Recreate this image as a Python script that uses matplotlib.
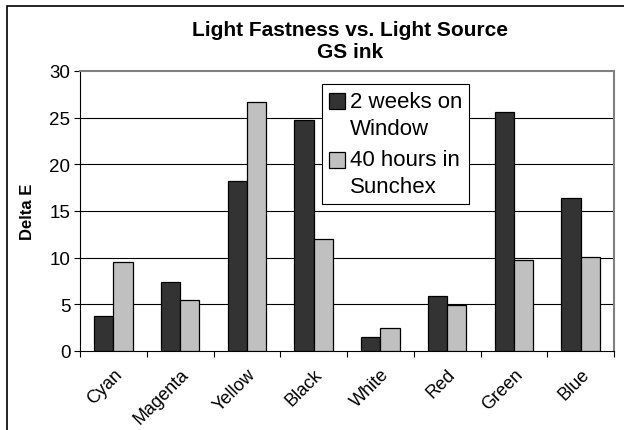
"""Light fastness vs. light source bar chart (GS ink)."""

import matplotlib
matplotlib.use("Agg")
import matplotlib.pyplot as plt
import matplotlib.patches as patches
import matplotlib.transforms as mtransforms
from matplotlib.legend_handler import HandlerPatch
import numpy as np

plt.rcParams['font.family'] = ['Liberation Sans', 'DejaVu Sans']

# data
categories = ['Cyan', 'Magenta', 'Yellow', 'Black', 'White', 'Red', 'Green', 'Blue']
window_2wk = [3.7, 7.4, 18.2, 24.8, 1.5, 5.9, 25.6, 16.4]
sunchex_40h = [9.5, 5.5, 26.7, 12.0, 2.5, 4.9, 9.8, 10.1]
series_labels = ['2 weeks on\nWindow', '40 hours in\nSunchex']
y_ticks = [0, 5, 10, 15, 20, 25, 30]

dark, light = '#333333', '#c0c0c0'

W, H = 624, 431
fig = plt.figure(figsize=(W / 100, H / 100), dpi=100)
fig.patch.set_facecolor('white')

# outer chart frame (runs off right and bottom edges)
fig.add_artist(patches.Rectangle((7 / W, -0.1), 1.2, 1 - 7 / H + 0.1,
                                 transform=fig.transFigure, fill=False,
                                 edgecolor='black', linewidth=1.2))

ax = fig.add_axes([80 / W, 79 / H, 534 / W, 280 / H])

x = np.arange(len(categories))
bw = 0.29
ax.bar(x - bw / 2, window_2wk, bw, color=dark, edgecolor='black',
       linewidth=0.9, zorder=3)
ax.bar(x + bw / 2, sunchex_40h, bw, color=light, edgecolor='black',
       linewidth=0.9, zorder=3)

ax.set_xlim(-0.5, len(categories) - 0.5)
ax.set_ylim(0, 30)
ax.set_yticks(y_ticks)
ax.set_yticklabels([str(v) for v in y_ticks], fontsize=13.5)

for v in y_ticks[1:-1]:
    ax.axhline(v, color='black', linewidth=0.8, zorder=1)

# category labels at centres, tick marks at boundaries
ax.set_xticks(np.arange(len(categories) + 1) - 0.5)
ax.set_xticklabels([])
ax.set_xticks(x, minor=True)
labels = ax.set_xticklabels(categories, minor=True, rotation=45, ha='right',
                            rotation_mode='anchor', fontsize=13)
shift = mtransforms.ScaledTranslation(-0.09, 0, fig.dpi_scale_trans)
for lab in labels:
    lab.set_transform(lab.get_transform() + shift)
ax.tick_params(axis='x', which='minor', length=0, pad=10.5)
ax.tick_params(axis='x', which='major', direction='out', length=4, width=0.8)
ax.tick_params(axis='y', direction='out', length=4, width=0.8, pad=3)

for side in ('top', 'right'):
    ax.spines[side].set_color('#808080')
    ax.spines[side].set_linewidth(1.5)
for side in ('left', 'bottom'):
    ax.spines[side].set_color('black')
    ax.spines[side].set_linewidth(0.8)

ax.set_ylabel('Delta E', fontsize=12, fontweight='bold', labelpad=10)


def top_square(legend, orig_handle, xdescent, ydescent, width, height, fontsize):
    # put the key square beside the first line of the label
    return patches.Rectangle((-xdescent, -ydescent + 0.62 * fontsize), width, height)


handles = [patches.Patch(facecolor=dark, edgecolor='black', linewidth=0.9),
           patches.Patch(facecolor=light, edgecolor='black', linewidth=0.9)]
leg = ax.legend(handles, series_labels,
                handler_map={patches.Patch: HandlerPatch(patch_func=top_square)},
                loc='upper left', bbox_to_anchor=(322 / W, 1 - 85 / H),
                bbox_transform=fig.transFigure, fontsize=16, frameon=True,
                fancybox=False, edgecolor='black', framealpha=1,
                handlelength=0.75, handleheight=0.75, handletextpad=0.2,
                borderpad=0.3, labelspacing=0.45, borderaxespad=0)
leg.get_frame().set_linewidth(0.8)
leg.set_zorder(5)
for t in leg.get_texts():
    t.set_linespacing(1.4)

fig.text(350 / W, 1 - 30 / H, 'Light Fastness vs. Light Source',
         ha='center', va='center', fontsize=15, fontweight='bold')
fig.text(350 / W, 1 - 53 / H, 'GS ink',
         ha='center', va='center', fontsize=15, fontweight='bold')

fig.savefig('out.png', dpi=100)
